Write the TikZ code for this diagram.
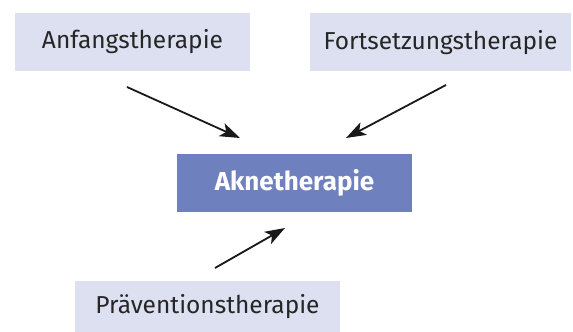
\documentclass[tikz,border=0pt]{standalone}
\usepackage{fontspec}
\setmainfont{Fira Sans}
\usetikzlibrary{arrows.meta}
\definecolor{hell}{RGB}{221,224,240}
\definecolor{akneblau}{RGB}{110,128,190}
\tikzset{
	feld/.style={fill=hell, text=black!85, minimum height=58pt, inner sep=0pt, font=\fontsize{24.5}{28}\selectfont},
	pfeil/.style={-{Stealth[length=20pt, width=14pt, inset=5pt]}, line width=1.8pt, black!90}
}
\begin{document}
\begin{tikzpicture}[x=1pt, y=1pt]
		\useasboundingbox (0,0) rectangle (573,332);
		\node[feld, minimum width=235pt] (anfang) at (132.5, 290) {Anfangstherapie};
		\node[feld, minimum width=261pt] (fort) at (440.5, 289.5) {Fortsetzungstherapie};
		\node[feld, minimum width=235pt, fill=akneblau, text=white, font=\fontsize{26}{30}\selectfont\bfseries] (akne) at (294.5, 149) {Aknetherapie};
		\node[feld, minimum width=265pt, minimum height=51pt] (praev) at (207.5, 25.5) {Präventionstherapie};

		\coordinate (a-1) at (127, 245);
		\coordinate (b-1) at (240, 194);
		\coordinate (a-2) at (446, 247);
		\coordinate (b-2) at (346, 194);
		\coordinate (a-3) at (215, 64);
		\coordinate (b-3) at (285, 104);
		\foreach \i in {1,2,3} {
			\draw[pfeil] (a-\i) -- (b-\i);
		}
	\end{tikzpicture}
\end{document}
